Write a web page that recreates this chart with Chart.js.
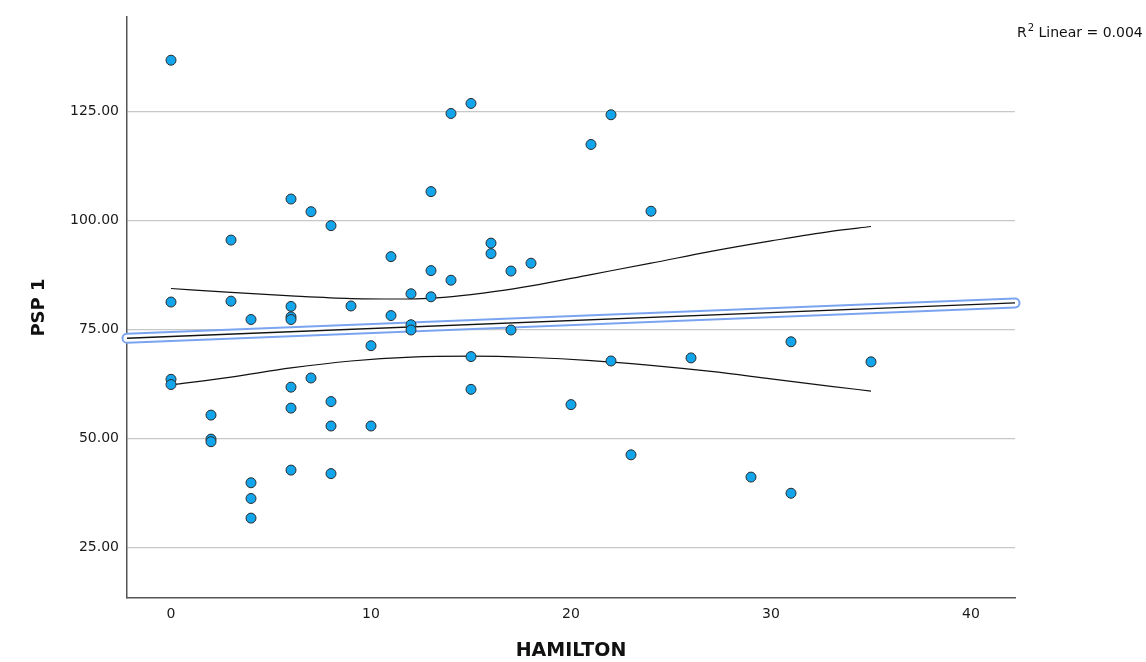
<!DOCTYPE html>
<html>
<head>
<meta charset="utf-8">
<script src="https://cdn.jsdelivr.net/npm/chart.js@4.4.1/dist/chart.umd.min.js"></script>
<style>
  html, body { margin: 0; padding: 0; background: #fff; }
  #wrap { width: 1146px; height: 662px; }
</style>
</head>
<body>
<div id="wrap"><canvas id="chart"></canvas></div>
<script>
// HAMILTON vs PSP 1
const hamilton = [
  0, 0, 0, 0,
  2, 2, 2,
  3, 3,
  4, 4, 4, 4,
  6, 6, 6, 6, 6, 6, 6,
  7, 7,
  8, 8, 8, 8,
  9,
  10, 10,
  11, 11,
  12, 12, 12,
  13, 13, 13,
  14, 14,
  15, 15, 15,
  16, 16,
  17, 17,
  18,
  20,
  21,
  22, 22,
  23,
  24,
  26,
  29,
  31, 31,
  35
]
const psp1 = [
  136.7, 81.3, 63.6, 62.4,
  55.4, 49.9, 49.3,
  95.5, 81.5,
  77.3, 39.9, 36.3, 31.8,
  104.9, 80.3, 77.9, 77.3, 61.8, 57.0, 42.8,
  102.0, 63.9,
  98.8, 58.5, 52.9, 42.0,
  80.4,
  71.3, 52.9,
  91.7, 78.2,
  83.2, 76.1, 74.9,
  106.6, 88.5, 82.5,
  124.5, 86.3,
  126.8, 68.8, 61.3,
  94.8, 92.4,
  88.4, 74.9,
  90.2,
  57.8,
  117.4,
  124.2, 67.8,
  46.3,
  102.1,
  68.5,
  41.2,
  72.2, 37.5,
  67.6
]

// linear fit, spans the whole x range
const fitX = [-2.2, 42.2]
const fitY = [73.0, 81.1]

// 95% confidence band of the mean
const bandX = [0, 3, 6, 9, 12, 15, 18, 21, 24, 27, 30, 33, 35]
const bandUpper = [84.4, 83.5, 82.7, 82.1, 82.0, 83.0, 85.0, 87.6, 90.2, 92.9, 95.3, 97.5, 98.6]
const bandLower = [62.3, 64.1, 66.2, 67.8, 68.7, 68.9, 68.6, 67.9, 66.8, 65.4, 63.7, 62.0, 60.9]

const yTicks = [25, 50, 75, 100, 125]
const xTicks = [0, 10, 20, 30, 40]

const pairs = (xs, ys) => xs.map((x, i) => ({ x, y: ys[i] }))

const FONT = '"DejaVu Sans", "Noto Sans", sans-serif'

const lineSet = (data, extra) => Object.assign({
  type: 'line',
  data,
  showLine: true,
  pointRadius: 0,
  pointHoverRadius: 0,
  fill: false,
  borderColor: '#111',
  borderWidth: 1.2
}, extra)

const rSquared = {
  id: 'rSquared',
  afterDraw(chart) {
    const { ctx } = chart
    ctx.save()
    ctx.fillStyle = '#111'
    ctx.textBaseline = 'alphabetic'
    ctx.textAlign = 'left'
    let x = 1017
    const base = 37
    ctx.font = '14px ' + FONT
    ctx.fillText('R', x, base)
    x += ctx.measureText('R').width + 1
    ctx.font = '10px ' + FONT
    ctx.fillText('2', x, base - 6)
    x += ctx.measureText('2').width
    ctx.font = '14px ' + FONT
    ctx.fillText(' Linear = 0.004', x, base)
    ctx.restore()
  }
}

new Chart(document.getElementById('chart'), {
  type: 'scatter',
  data: {
    datasets: [
      {
        label: 'PSP 1',
        data: pairs(hamilton, psp1),
        pointRadius: 5,
        pointHoverRadius: 5,
        pointBorderWidth: 1,
        backgroundColor: '#12a5ec',
        borderColor: '#2b2b2b'
      },
      lineSet(pairs(fitX, fitY), { borderWidth: 1.3, clip: false }),
      lineSet(pairs(fitX, fitY), { borderColor: '#ffffff', borderWidth: 7, borderCapStyle: 'round', clip: false }),
      lineSet(pairs(fitX, fitY), { borderColor: '#7ba4f0', borderWidth: 11, borderCapStyle: 'round', clip: false }),
      lineSet(pairs(bandX, bandUpper), { cubicInterpolationMode: 'monotone' }),
      lineSet(pairs(bandX, bandLower), { cubicInterpolationMode: 'monotone' })
    ]
  },
  options: {
    responsive: true,
    maintainAspectRatio: false,
    animation: false,
    events: [],
    layout: { padding: { top: 17, right: 131, left: 0, bottom: 0 } },
    plugins: {
      legend: { display: false },
      tooltip: { enabled: false }
    },
    scales: {
      x: {
        type: 'linear',
        min: -2.2,
        max: 42.2,
        afterBuildTicks: (scale) => { scale.ticks = xTicks.map((value) => ({ value })) },
        afterFit: (scale) => { scale.height = 64 },
        grid: { display: false, drawTicks: false },
        border: { display: true, color: '#555', width: 1.5 },
        ticks: {
          padding: 8,
          color: '#1a1a1a',
          font: { family: FONT, size: 14 }
        },
        title: {
          display: true,
          text: 'HAMILTON',
          color: '#111',
          padding: { top: 0, bottom: 0 },
          font: { family: FONT, size: 19, weight: 'bold' }
        }
      },
      y: {
        type: 'linear',
        min: 13.5,
        max: 146.6,
        afterBuildTicks: (scale) => { scale.ticks = yTicks.map((value) => ({ value })) },
        afterFit: (scale) => { scale.width = 127 },
        grid: { color: '#c8c8c8', lineWidth: 1.2, drawTicks: false },
        border: { display: true, color: '#555', width: 1.5 },
        ticks: {
          padding: 8,
          color: '#1a1a1a',
          font: { family: FONT, size: 14 },
          callback: (v) => v.toFixed(2)
        },
        title: {
          display: true,
          text: 'PSP 1',
          color: '#111',
          padding: { top: 29, bottom: 0 },
          font: { family: FONT, size: 18, weight: 'bold' }
        }
      }
    }
  },
  plugins: [rSquared]
})
</script>
</body>
</html>
